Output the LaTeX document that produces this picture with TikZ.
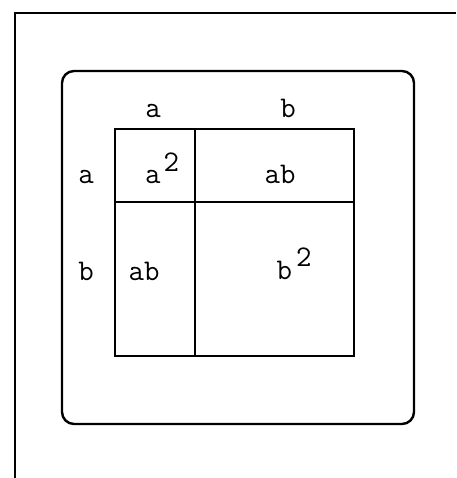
\documentclass[tikz,border=0pt]{standalone}
\usepackage{fontspec}
\begin{document}
\begin{tikzpicture}[x=1pt,y=-1pt,
  edge/.style={line width=2.2pt,black},
  lbl/.style={font=\ttfamily\fontsize{30}{30}\selectfont,inner sep=0pt,anchor=base}]
\useasboundingbox (0,0) rectangle (456,478);
% outer frame (partial)
\coordinate (ftr) at (456,13);
\coordinate (ftl) at (15,13);
\coordinate (fbl) at (15,478);
\draw[edge] (ftr) -- (ftl) -- (fbl);
% rounded frame
\node[draw,line width=2.4pt,rounded corners=12pt,minimum width=352pt,minimum height=353pt,inner sep=0pt] (frame) at (238,247.5) {};
% inner square
\coordinate (sq1) at (115,129);
\coordinate (sq2) at (354,356);
\draw[edge] (sq1) rectangle (sq2);
\coordinate (vt) at (195,129);
\coordinate (vb) at (195,356);
\coordinate (hl) at (115,202);
\coordinate (hr) at (354,202);
\draw[edge] (vt) -- (vb);
\draw[edge] (hl) -- (hr);
% labels
\node[lbl] (ta) at (153,118) {a};
\node[lbl] (tb) at (288,118) {b};
\node[lbl] (la) at (86,183) {a};
\node[lbl] (lb) at (86,280) {b};
\node[lbl] (a2) at (162,183) {a\kern3pt\raisebox{12pt}{2}};
\node[lbl] (ab1) at (280,183) {ab};
\node[lbl] (ab2) at (144,280) {ab};
\node[lbl] (b2) at (294,279) {b\kern4pt\raisebox{13pt}{2}};
\end{tikzpicture}
\end{document}
